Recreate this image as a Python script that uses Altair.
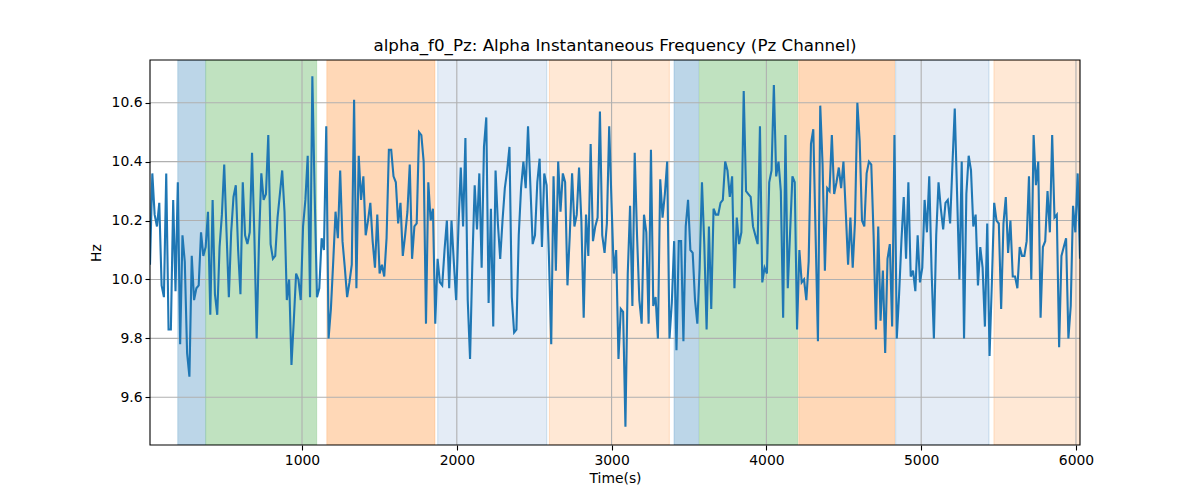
import altair as alt
import numpy as np
import pandas as pd

# ---- data ----
hz_values = [
    10.05,
    10.36, 10.22, 10.18, 10.26, 9.98, 9.94, 10.36, 9.83, 9.83, 10.27, 9.96, 10.33, 9.78, 10.15, 10.06,
    9.75, 9.67, 10.08, 9.93, 9.97, 9.98, 10.16, 10.08, 10.11, 10.23, 9.88, 10.27, 9.95, 9.88, 10.11,
    10.22, 10.39, 10.16, 9.94, 10.16, 10.28, 10.32, 10.10, 9.95, 10.33, 10.15, 10.12, 10.16, 10.43,
    10.15, 9.80, 10.13, 10.36, 10.27, 10.29, 10.49, 10.12,
    10.07, 10.08, 10.21, 10.29, 10.37, 10.23, 9.93, 10.00, 9.71, 9.86, 10.02, 10.00, 9.93, 10.18,
    10.27, 10.42, 9.94, 10.69, 10.29, 9.94, 9.97, 10.14, 10.10, 10.52, 9.80, 9.90, 10.06, 10.23,
    10.14, 10.37, 10.13, 10.04, 9.94, 9.99, 10.05, 10.61, 9.97, 10.42, 10.27, 10.35, 10.15, 10.20,
    10.26, 10.13, 10.04, 10.22, 10.02, 10.05, 10.01, 10.14, 10.44,
    10.44, 10.35, 10.33, 10.19, 10.26, 10.08, 10.15, 10.23, 10.39, 10.07, 10.18, 10.19, 10.50, 10.49,
    10.40, 9.85, 10.33, 10.20, 10.24, 9.85, 10.07, 9.99, 9.98, 10.10, 10.20, 9.97, 10.20, 10.06,
    9.93, 10.18, 10.38, 10.18, 10.48, 9.93, 9.73, 10.06, 10.32, 10.17, 10.36, 10.04, 10.45, 10.55,
    9.92, 10.24, 9.84, 10.37, 10.19, 10.07, 10.20, 10.31, 10.37, 10.45,
    9.94, 9.82, 9.83, 10.15, 10.31, 10.40, 10.31, 10.52, 10.32, 10.12, 10.15, 10.33, 10.41, 10.11,
    10.36, 10.32, 10.08, 9.78, 10.35, 10.03, 10.40, 10.23, 10.36, 10.33, 9.98, 10.15, 10.36, 10.18,
    10.22, 10.38, 10.20, 9.87, 10.22, 10.08, 10.46, 10.13, 10.18, 10.21, 10.57, 10.15, 10.09, 10.19,
    10.52, 10.26, 10.02, 10.10, 9.73, 9.90, 9.89, 9.50, 10.02, 10.25,
    9.91, 10.43, 10.15, 9.93, 9.85, 10.22, 10.16, 9.85, 10.44, 9.91, 9.94, 9.80, 10.34, 10.21,
    10.29, 10.40, 9.80, 9.92, 10.13, 9.76, 10.13, 10.13, 9.79, 10.18, 10.27, 10.10, 10.09, 9.93,
    9.85, 10.04, 10.33, 10.12, 9.83, 10.18, 9.90, 10.24, 10.22, 10.22, 10.26, 10.27, 10.40, 10.37,
    10.28, 10.35, 9.97, 10.21, 10.12, 10.16, 10.64, 10.30, 10.29, 10.28,
    10.18, 10.15, 10.12, 10.52, 9.99, 10.04, 10.02, 10.33, 10.37, 10.66, 10.35, 10.40, 10.30, 9.87,
    10.49, 9.97, 10.16, 10.35, 10.33, 9.83, 10.10, 9.99, 10.00, 9.93, 10.06, 10.46, 10.51, 10.15,
    9.79, 10.59, 10.39, 10.03, 10.31, 10.30, 10.49, 10.29, 10.33, 10.38, 10.31, 10.40, 10.23, 10.05,
    10.21, 10.04, 10.20, 10.60, 10.47, 10.20, 10.18, 10.36, 10.40,
    10.39, 10.15, 9.83, 10.18, 9.86, 10.03, 9.75, 10.07, 10.12, 9.84, 10.49, 9.80, 9.95, 10.13,
    10.28, 10.07, 10.33, 10.01, 10.03, 9.96, 10.15, 9.99, 10.04, 10.27, 10.16, 10.35, 10.03, 9.80,
    10.15, 10.33, 10.24, 10.17, 10.26, 10.27, 10.19, 10.39, 10.58, 10.29, 10.00, 10.40, 9.80, 10.29,
    10.42, 10.37, 10.18, 10.22, 9.98, 10.11,
    10.04, 9.84, 10.19, 9.74, 9.99, 10.26, 10.20, 10.19, 9.90, 10.19, 10.28, 10.09, 10.20, 10.01,
    10.01, 9.97, 10.11, 10.08, 10.08, 10.13, 10.35, 10.00, 10.49, 10.32, 10.40, 9.87, 10.11, 10.13,
    10.30, 10.16, 10.49, 10.21, 10.22, 9.77, 10.08, 10.11, 10.14, 9.80, 9.91, 10.25, 10.16, 10.36,
    10.07,
]
t_first = 18.0
t_last = 6026.0

band_start = [197, 378, 1160, 1877, 2598, 3403, 3567, 4209, 4835, 5470]
band_end = [378, 1095, 1859, 2581, 3373, 3562, 4202, 4829, 5438, 6026]
band_state = ["s1", "s2", "s3", "s4", "s5", "s1", "s2", "s3", "s4", "s5"]

x_ticks = [1000, 2000, 3000, 4000, 5000, 6000]
y_ticks = [9.6, 9.8, 10.0, 10.2, 10.4, 10.6]

# ---- tables ----
times = np.linspace(t_first, t_last, len(hz_values))
line_df = pd.DataFrame({"t": times, "hz": hz_values})
band_df = pd.DataFrame({"start": band_start, "end": band_end, "state": band_state})
xgrid_df = pd.DataFrame({"t": x_ticks})
ygrid_df = pd.DataFrame({"hz": y_ticks})

FONT = "DejaVu Sans"
W, H = 930, 385
x_scale = alt.Scale(domain=[t_first, t_last], nice=False, zero=False)
y_scale = alt.Scale(domain=[9.438, 10.745], nice=False, zero=False)

states = ["s1", "s2", "s3", "s4", "s5"]
fills = ["#BCD6E8", "#C0E2C0", "#FFD8B7", "#E4ECF6", "#FFE8D5"]
strokes = ["#1f77b4", "#2ca02c", "#ff7f0e", "#1f77b4", "#ff7f0e"]

bands = alt.Chart(band_df).mark_rect(clip=True, strokeWidth=1, strokeOpacity=0.2).encode(
    x=alt.X("start:Q", scale=x_scale),
    x2="end:Q",
    fill=alt.Fill("state:N", scale=alt.Scale(domain=states, range=fills), legend=None),
    stroke=alt.Stroke("state:N", scale=alt.Scale(domain=states, range=strokes), legend=None),
)

xgrid = alt.Chart(xgrid_df).mark_rule(color="#b0b0b0", strokeWidth=1.1).encode(
    x=alt.X("t:Q", scale=x_scale)
)
ygrid = alt.Chart(ygrid_df).mark_rule(color="#b0b0b0", strokeWidth=1.1).encode(
    y=alt.Y("hz:Q", scale=y_scale)
)

line = alt.Chart(line_df).mark_line(color="#1f77b4", strokeWidth=2.1, clip=True).encode(
    x=alt.X(
        "t:Q",
        scale=x_scale,
        title="Time(s)",
        axis=alt.Axis(values=x_ticks, format="d", grid=False, domain=False,
                      tickSize=5, labelPadding=3, titlePadding=5),
    ),
    y=alt.Y(
        "hz:Q",
        scale=y_scale,
        title="Hz",
        axis=alt.Axis(values=y_ticks, format=".1f", grid=False, domain=False,
                      tickSize=5, labelPadding=3, titlePadding=8),
    ),
)

frame = alt.Chart(line_df).mark_rect(fill=None, stroke="black", strokeWidth=1.1, fillOpacity=0).encode(
    x=alt.value(0), x2=alt.value(W), y=alt.value(0), y2=alt.value(H)
).transform_filter("datum.t == " + str(t_first))

chart = (
    alt.layer(bands, xgrid, ygrid, line, frame)
    .resolve_scale(fill="independent", stroke="independent")
    .properties(
        width=W,
        height=H,
        title=alt.TitleParams(
            "alpha_f0_Pz: Alpha Instantaneous Frequency (Pz Channel)",
            font=FONT, fontSize=16.7, fontWeight="normal", color="black",
            anchor="middle", offset=-8, baseline="alphabetic",
        ),
        autosize=alt.AutoSizeParams(type="none"),
        padding={"left": 142, "top": 52, "right": 112, "bottom": 47},
    )
    .configure_view(stroke=None)
    .configure_axis(
        labelFont=FONT, titleFont=FONT, labelFontSize=13.9, titleFontSize=13.9,
        labelColor="black", titleColor="black", tickColor="black", tickWidth=1.1,
        titleFontWeight="normal",
    )
)

chart.save("out.html", embed_options={"renderer": "svg", "actions": False})
